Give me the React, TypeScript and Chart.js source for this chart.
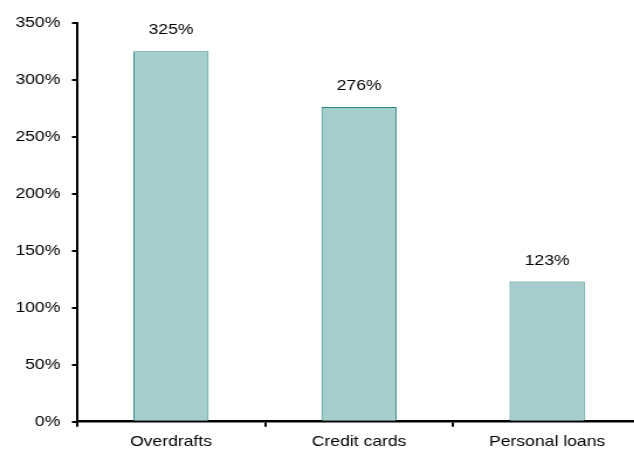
import React, { useEffect, useRef } from "react";
import { Chart, registerables } from "chart.js";

Chart.register(...registerables);

const categories: string[] = ["Overdrafts", "Credit cards", "Personal loans"];
const values: number[] = [325, 276, 123];
const yTicks: number[] = [0, 50, 100, 150, 200, 250, 300, 350];

const STRETCH = 1.17;
const FONT = "'Liberation Sans', Arial, sans-serif";

const valueLabels = {
  id: "valueLabels",
  afterDatasetsDraw(chart: any) {
    const ctx = chart.ctx;
    const meta = chart.getDatasetMeta(0);
    ctx.save();
    ctx.font = `15px ${FONT}`;
    ctx.fillStyle = "#000";
    ctx.textAlign = "center";
    ctx.textBaseline = "middle";
    meta.data.forEach((bar: any, i: number) => {
      ctx.fillText(`${values[i]}%`, bar.x, bar.y - 21);
    });
    ctx.restore();
  },
};

export default function App() {
  const ref = useRef<HTMLCanvasElement>(null);
  useEffect(() => {
    if (!ref.current) return;
    const chart = new Chart(ref.current, {
      type: "bar",
      data: {
        labels: categories,
        datasets: [
          {
            data: values,
            backgroundColor: "rgb(166,206,204)",
            borderColor: "#2a8782",
            borderWidth: 1,
            categoryPercentage: 1,
            barPercentage: 0.4,
          },
        ],
      },
      options: {
        animation: false,
        responsive: true,
        maintainAspectRatio: false,
        layout: { padding: { top: 22.7, right: 0, left: 0, bottom: 0 } },
        plugins: { legend: { display: false }, tooltip: { enabled: false } },
        scales: {
          x: {
            offset: true,
            grid: {
              display: true,
              offset: true,
              drawOnChartArea: false,
              drawTicks: true,
              tickLength: 5,
              color: "#000",
              lineWidth: 2,
            },
            border: { display: true, color: "#000", width: 2.5 },
            ticks: {
              color: "#000",
              font: { family: FONT, size: 15 },
              padding: 6,
              maxRotation: 0,
            },
            afterFit(scale: any) {
              scale.height = 27.3;
            },
          },
          y: {
            min: 0,
            max: 350,
            afterBuildTicks(scale: any) {
              scale.ticks = yTicks.map((v) => ({ value: v }));
            },
            grid: {
              display: true,
              drawOnChartArea: false,
              drawTicks: true,
              tickLength: 4.3,
              color: "#000",
              lineWidth: 2,
            },
            border: { display: true, color: "#000", width: 2 },
            ticks: {
              color: "#000",
              font: { family: FONT, size: 15 },
              padding: 10,
              callback: (v: any) => `${v}%`,
            },
            afterFit(scale: any) {
              scale.width = 65.8;
            },
          },
        },
      },
      plugins: [valueLabels],
    });
    return () => chart.destroy();
  }, []);

  return (
    <div
      style={{
        position: "fixed",
        left: 0,
        top: 0,
        width: 634,
        height: 449,
        overflow: "hidden",
        background: "#fff",
      }}
    >
      <div
        style={{
          position: "relative",
          width: 548,
          height: 449,
          transform: `scaleX(${STRETCH})`,
          transformOrigin: "0 0",
        }}
      >
        <canvas ref={ref} />
      </div>
    </div>
  );
}
